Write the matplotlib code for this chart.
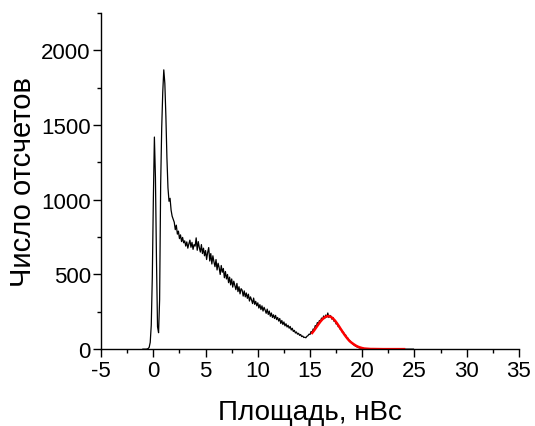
import numpy as np
import matplotlib
matplotlib.use("Agg")
import matplotlib.pyplot as plt
from matplotlib.ticker import MultipleLocator

plt.rcParams['font.family'] = ['Liberation Sans', 'DejaVu Sans']
plt.rcParams['axes.unicode_minus'] = False

# charge spectrum, bin width 0.1 nVs starting at -1.0 nVs
bin_start = -1.0
bin_width = 0.1
counts = [
    0, 0, 0, 0, 1, 4, 12, 45, 160, 480,                      # -1.0 .. -0.1
    1000, 1420, 1150, 600, 150, 110, 330, 1100, 1480, 1720,  # 0.0 .. 0.9
    1870, 1780, 1560, 1280, 1080, 990, 1010, 930, 890, 870,  # 1.0 .. 1.9
    850, 800, 830, 770, 790, 740, 765, 720, 748, 712,        # 2.0 .. 2.9
    725, 690, 718, 676, 705, 730, 682, 715, 668, 700,        # 3.0 .. 3.9
    690, 745, 662, 720, 680, 650, 700, 640, 676, 625,        # 4.0 .. 4.9
    660, 600, 648, 680, 590, 640, 570, 625, 585, 552,        # 5.0 .. 5.9
    600, 530, 575, 545, 500, 560, 515, 540, 478, 520,        # 6.0 .. 6.9
    470, 500, 445, 482, 430, 470, 415, 455, 425, 398,        # 7.0 .. 7.9
    440, 385, 418, 370, 405, 395, 355, 390, 350, 376,        # 8.0 .. 8.9
    340, 368, 322, 350, 330, 305, 342, 300, 320, 290,        # 9.0 .. 9.9
    310, 275, 298, 265, 290, 255, 280, 262, 240, 268,        # 10.0 .. 10.9
    232, 255, 220, 242, 212, 230, 205, 226, 198, 212,        # 11.0 .. 11.9
    188, 205, 172, 192, 165, 182, 156, 170, 148, 160,        # 12.0 .. 12.9
    140, 152, 128, 140, 118, 126, 108, 115, 100, 106,        # 13.0 .. 13.9
    92, 98, 84, 88, 78, 80, 76, 86, 90, 100,                 # 14.0 .. 14.9
    98, 118, 112, 135, 130, 158, 150, 178, 170, 192,         # 15.0 .. 15.9
    186, 208, 198, 222, 205, 228, 214, 242, 212, 226,        # 16.0 .. 16.9
    220, 200, 212, 186, 190, 168, 172, 150, 152, 132,        # 17.0 .. 17.9
    132, 112, 114, 94, 96, 78, 76, 60, 58, 46,               # 18.0 .. 18.9
    40, 34, 28, 23, 19, 15, 12, 9, 7, 6,                     # 19.0 .. 19.9
    5, 4, 3, 3, 2, 2, 2, 1, 1, 1,                            # 20.0 .. 20.9
    1, 0, 1, 0, 0, 1, 0, 0, 0, 0,                            # 21.0 .. 21.9
    0, 0, 0, 1, 0, 0, 0, 0, 0, 0,                            # 22.0 .. 22.9
    0, 0, 0, 0, 0, 0, 0, 0, 0, 0,                            # 23.0 .. 23.9
    0, 0, 0, 0, 0, 0, 0, 0, 0, 0,                            # 24.0 .. 24.9
]

# fitted single-photoelectron peak
fit_x = [15.2, 15.4, 15.6, 15.8, 16.0, 16.2, 16.4, 16.6, 16.8, 17.0,
         17.2, 17.4, 17.6, 17.8, 18.0, 18.2, 18.4, 18.6, 18.8, 19.0,
         19.2, 19.4, 19.6, 19.8, 20.0, 20.2, 20.4, 20.6, 20.8, 21.0,
         21.5, 22.0, 23.0, 24.0]
fit_y = [108, 126, 146, 166, 185, 201, 213, 220, 221, 216,
         205, 190, 171, 150, 128, 107, 87, 69, 53, 42,
         32, 23, 16, 11, 7, 4, 3, 2, 1, 1,
         0.5, 0, 0, 0]

x = bin_start + bin_width * np.arange(len(counts))

fig = plt.figure(figsize=(5.35, 4.27), dpi=100)
ax = fig.add_axes([0.189, 0.180, 0.781, 0.787])

ax.plot(x, counts, color='black', linewidth=0.9)
ax.plot(fit_x, fit_y, color='red', linewidth=1.8)

ax.set_xlim(-5, 35)
ax.set_ylim(0, 2250)
ax.xaxis.set_major_locator(MultipleLocator(5))
ax.xaxis.set_minor_locator(MultipleLocator(2.5))
ax.yaxis.set_major_locator(MultipleLocator(500))
ax.yaxis.set_minor_locator(MultipleLocator(250))

for side in ('top', 'right'):
    ax.spines[side].set_visible(False)
for side in ('left', 'bottom'):
    ax.spines[side].set_linewidth(1.0)

ax.tick_params(which='major', direction='out', length=6, width=1.0,
               labelsize=16, pad=1.5)
ax.tick_params(which='minor', direction='out', length=3, width=1.0)

ax.set_xlabel('Площадь, нВс', fontsize=20, labelpad=13)
ax.set_ylabel('Число отсчетов', fontsize=21, labelpad=3)

fig.savefig('out.png', dpi=100)
